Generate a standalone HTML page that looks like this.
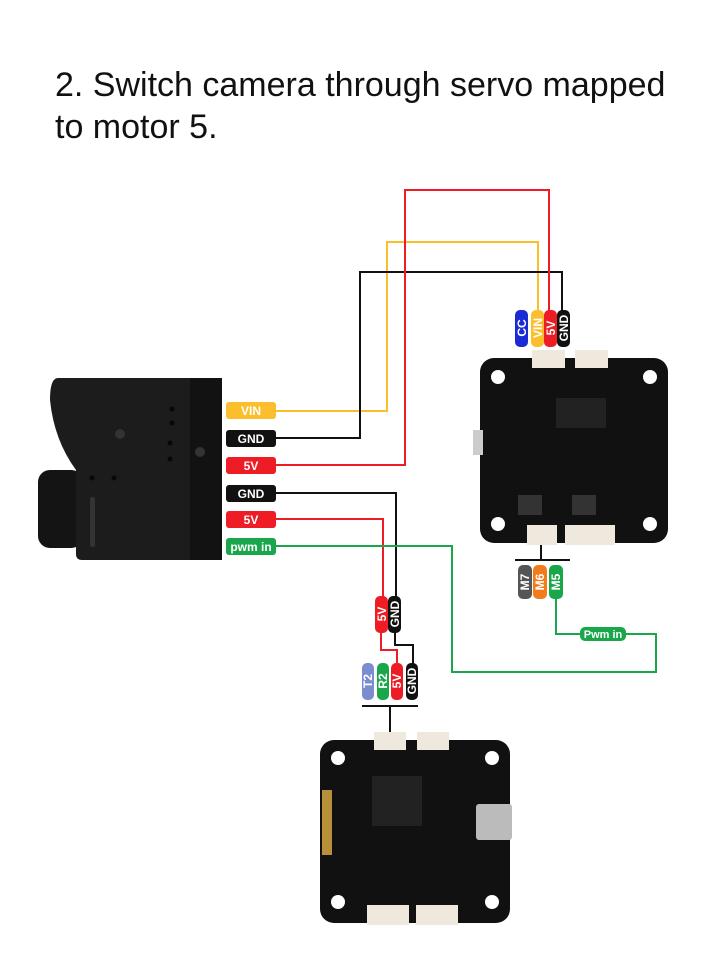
<!DOCTYPE html>
<html><head><meta charset="utf-8"><style>
html,body{margin:0;padding:0;background:#fff;}
body{width:716px;height:960px;overflow:hidden;position:relative;font-family:"Liberation Sans",sans-serif;}
.t{position:absolute;left:55px;font-size:34px;color:#111;line-height:42px;}
</style></head><body>
<div class="t" style="top:64px">2. Switch camera through servo mapped<br>to motor 5.</div>
<svg width="716" height="960" style="position:absolute;left:0;top:0" font-family="Liberation Sans, sans-serif" font-weight="bold">
<!-- camera -->
<rect x="38" y="470" width="45" height="78" rx="12" fill="#141414"/>
<path d="M58 378 H210 L222 388 V556 Q222 560 218 560 H82 Q76 560 76 554 V470 Q54 440 50 400 Q50 378 58 378Z" fill="#1c1c1c"/>
<rect x="190" y="378" width="32" height="182" fill="#121212"/>
<circle cx="120" cy="434" r="5" fill="#333"/><circle cx="200" cy="452" r="5" fill="#333"/>
<g fill="#080808"><circle cx="172" cy="409" r="2.5"/><circle cx="172" cy="423" r="2.5"/><circle cx="170" cy="443" r="2.5"/><circle cx="170" cy="459" r="2.5"/><circle cx="92" cy="478" r="2.5"/><circle cx="114" cy="478" r="2.5"/></g>
<rect x="90" y="497" width="5" height="50" rx="2" fill="#333"/>
<!-- wires -->
<g fill="none" stroke-width="2">
<polyline points="276,411 387,411 387,242 538,242 538,312" stroke="#fbbf2e"/>
<polyline points="276,438 360,438 360,272 562,272 562,312" stroke="#111"/>
<polyline points="276,465 405,465 405,190 549,190 549,312" stroke="#ee1c24"/>
<polyline points="276,493 396,493 396,600" stroke="#111"/>
<polyline points="276,519 383,519 383,600" stroke="#ee1c24"/>
<polyline points="276,546 452,546 452,672 656,672 656,634 620,634" stroke="#1aa64a"/>
<polyline points="582,634 556,634 556,598" stroke="#1aa64a"/>
<polyline points="381,630 381,650 397,650 397,665" stroke="#ee1c24"/>
<polyline points="395,630 395,645 413,645 413,665" stroke="#111"/>
<line x1="362" y1="706" x2="418" y2="706" stroke="#111"/>
<line x1="390" y1="706" x2="390" y2="742" stroke="#111"/>
<line x1="515" y1="560" x2="570" y2="560" stroke="#111"/>
<line x1="541" y1="540" x2="541" y2="560" stroke="#111"/>
</g>
<!-- left labels -->
<g font-size="12" fill="#fff" text-anchor="middle">
<rect x="226" y="402" width="50" height="17" rx="3" fill="#fbbf2e"/><text x="251" y="415">VIN</text>
<rect x="226" y="430" width="50" height="17" rx="3" fill="#111"/><text x="251" y="443">GND</text>
<rect x="226" y="457" width="50" height="17" rx="3" fill="#ee1c24"/><text x="251" y="470">5V</text>
<rect x="226" y="485" width="50" height="17" rx="3" fill="#111"/><text x="251" y="498">GND</text>
<rect x="226" y="511" width="50" height="17" rx="3" fill="#ee1c24"/><text x="251" y="524">5V</text>
<rect x="226" y="538" width="50" height="17" rx="3" fill="#1aa64a"/><text x="251" y="551">pwm in</text>
<rect x="580" y="627" width="46" height="14" rx="5" fill="#1aa64a"/><text x="603" y="638" font-size="11">Pwm in</text>
</g>
<!-- vertical labels -->
<g font-size="12" fill="#fff" text-anchor="middle">
<g><rect x="515" y="310" width="13" height="37" rx="5" fill="#1a2bd6"/><text transform="translate(526,328) rotate(-90)">CC</text></g>
<g><rect x="531" y="310" width="13" height="37" rx="5" fill="#fbbf2e"/><text transform="translate(542,328) rotate(-90)">VIN</text></g>
<g><rect x="544" y="310" width="13" height="37" rx="5" fill="#ee1c24"/><text transform="translate(555,328) rotate(-90)">5V</text></g>
<g><rect x="557" y="310" width="13" height="37" rx="5" fill="#111"/><text transform="translate(568,328) rotate(-90)">GND</text></g>
<g><rect x="518" y="565" width="14" height="34" rx="5" fill="#555"/><text transform="translate(529,582) rotate(-90)">M7</text></g>
<g><rect x="533" y="565" width="14" height="34" rx="5" fill="#f27c1c"/><text transform="translate(544,582) rotate(-90)">M6</text></g>
<g><rect x="549" y="565" width="14" height="34" rx="5" fill="#1aa64a"/><text transform="translate(560,582) rotate(-90)">M5</text></g>
<g><rect x="375" y="596" width="13" height="37" rx="5" fill="#ee1c24"/><text transform="translate(386,614) rotate(-90)">5V</text></g>
<g><rect x="388" y="596" width="13" height="37" rx="5" fill="#111"/><text transform="translate(399,614) rotate(-90)">GND</text></g>
<g><rect x="362" y="663" width="12" height="37" rx="5" fill="#7b8cd0"/><text transform="translate(372,681) rotate(-90)">T2</text></g>
<g><rect x="377" y="663" width="12" height="37" rx="5" fill="#1aa64a"/><text transform="translate(387,681) rotate(-90)">R2</text></g>
<g><rect x="391" y="663" width="12" height="37" rx="5" fill="#ee1c24"/><text transform="translate(401,681) rotate(-90)">5V</text></g>
<g><rect x="406" y="663" width="12" height="37" rx="5" fill="#111"/><text transform="translate(416,681) rotate(-90)">GND</text></g>
</g>
<!-- top-right board -->
<rect x="480" y="358" width="188" height="185" rx="14" fill="#111"/>
<circle cx="498" cy="377" r="7" fill="#fff"/><circle cx="650" cy="377" r="7" fill="#fff"/><circle cx="498" cy="524" r="7" fill="#fff"/><circle cx="650" cy="524" r="7" fill="#fff"/>
<rect x="532" y="350" width="33" height="18" fill="#eee8dd"/><rect x="575" y="350" width="33" height="18" fill="#eee8dd"/>
<rect x="527" y="525" width="30" height="20" fill="#eee8dd"/><rect x="565" y="525" width="50" height="20" fill="#eee8dd"/>
<rect x="556" y="398" width="50" height="30" fill="#222"/>
<rect x="518" y="495" width="24" height="20" fill="#333"/><rect x="572" y="495" width="24" height="20" fill="#333"/>
<rect x="473" y="430" width="10" height="25" fill="#ccc"/>
<!-- bottom board -->
<rect x="320" y="740" width="190" height="183" rx="14" fill="#111"/>
<circle cx="338" cy="758" r="7" fill="#fff"/><circle cx="492" cy="758" r="7" fill="#fff"/><circle cx="338" cy="902" r="7" fill="#fff"/><circle cx="492" cy="902" r="7" fill="#fff"/>
<rect x="374" y="732" width="32" height="18" fill="#eee8dd"/><rect x="417" y="732" width="32" height="18" fill="#eee8dd"/>
<rect x="367" y="905" width="42" height="20" fill="#eee8dd"/><rect x="416" y="905" width="42" height="20" fill="#eee8dd"/>
<rect x="372" y="776" width="50" height="50" fill="#222"/>
<rect x="322" y="790" width="10" height="65" fill="#b8903a"/>
<rect x="476" y="804" width="36" height="36" rx="3" fill="#bbb"/>
</svg>
</body></html>
